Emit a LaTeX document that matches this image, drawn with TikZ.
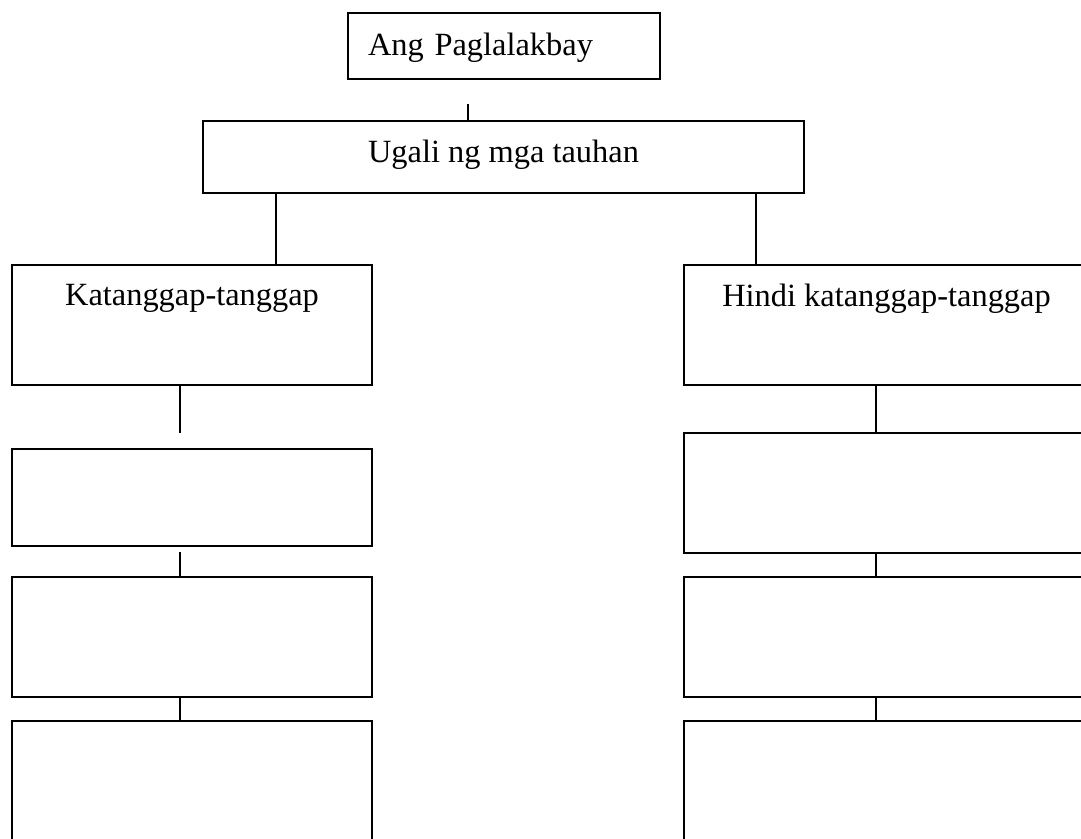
\documentclass[tikz,border=0pt]{standalone}
\usepackage{fontspec}
\setmainfont{Liberation Serif}
\usetikzlibrary{positioning}

\begin{document}
\begin{tikzpicture}[x=1pt, y=-1pt, line width=1.8pt,
	box/.style={draw, rectangle, inner sep=0pt, font=\fontsize{32.4}{38}\selectfont},
	lbox/.style={box, minimum width=360pt},
	rbox/.style={box, minimum width=405pt}]
	\useasboundingbox (0,0) rectangle (1081,838);
	\clip (0,0) rectangle (1081,838);

	\node[box, inner xsep=20pt, text width=272pt, align=left, text height=42pt, text depth=24pt] (trip) at (504,46) {Ang Paglalakbay};
	\node[box, minimum width=601pt, text height=41pt, text depth=31pt] (ugali) at (503.5,157) {Ugali ng mga tauhan};

	\node[lbox, text height=40pt, text depth=80pt] (kat) at (192,325) {Katanggap-tanggap};
	\node[lbox, minimum height=97pt] (kat1) at (192,497.5) {};
	\node[lbox, minimum height=120pt] (kat2) at (192,637) {};
	\node[lbox, minimum height=140pt] (kat3) at (192,791) {};

	\node[rbox, text height=41pt, text depth=79pt] (hindi) at (886.5,325) {Hindi katanggap-tanggap};
	\node[rbox, minimum height=120pt] (hindi1) at (886.5,493) {};
	\node[rbox, minimum height=120pt] (hindi2) at (886.5,637) {};
	\node[rbox, minimum height=140pt] (hindi3) at (886.5,791) {};

	\coordinate (tstub) at (468,104);
	\coordinate (lbr) at (276,0);
	\coordinate (rbr) at (756,0);
	\coordinate (lcol) at (180,0);
	\coordinate (rcol) at (876,0);
	\coordinate (kstub1) at (180,433);
	\coordinate (kstub2) at (180,552);

	\draw (tstub) -- (tstub |- ugali.north);
	\draw (ugali.south -| lbr) -- (kat.north -| lbr);
	\draw (ugali.south -| rbr) -- (hindi.north -| rbr);

	\draw (kat.south -| lcol) -- (kstub1);
	\draw (kstub2) -- (kat2.north -| lcol);
	\draw (kat2.south -| lcol) -- (kat3.north -| lcol);

	\draw (hindi.south -| rcol) -- (hindi1.north -| rcol);
	\draw (hindi1.south -| rcol) -- (hindi2.north -| rcol);
	\draw (hindi2.south -| rcol) -- (hindi3.north -| rcol);
\end{tikzpicture}
\end{document}
